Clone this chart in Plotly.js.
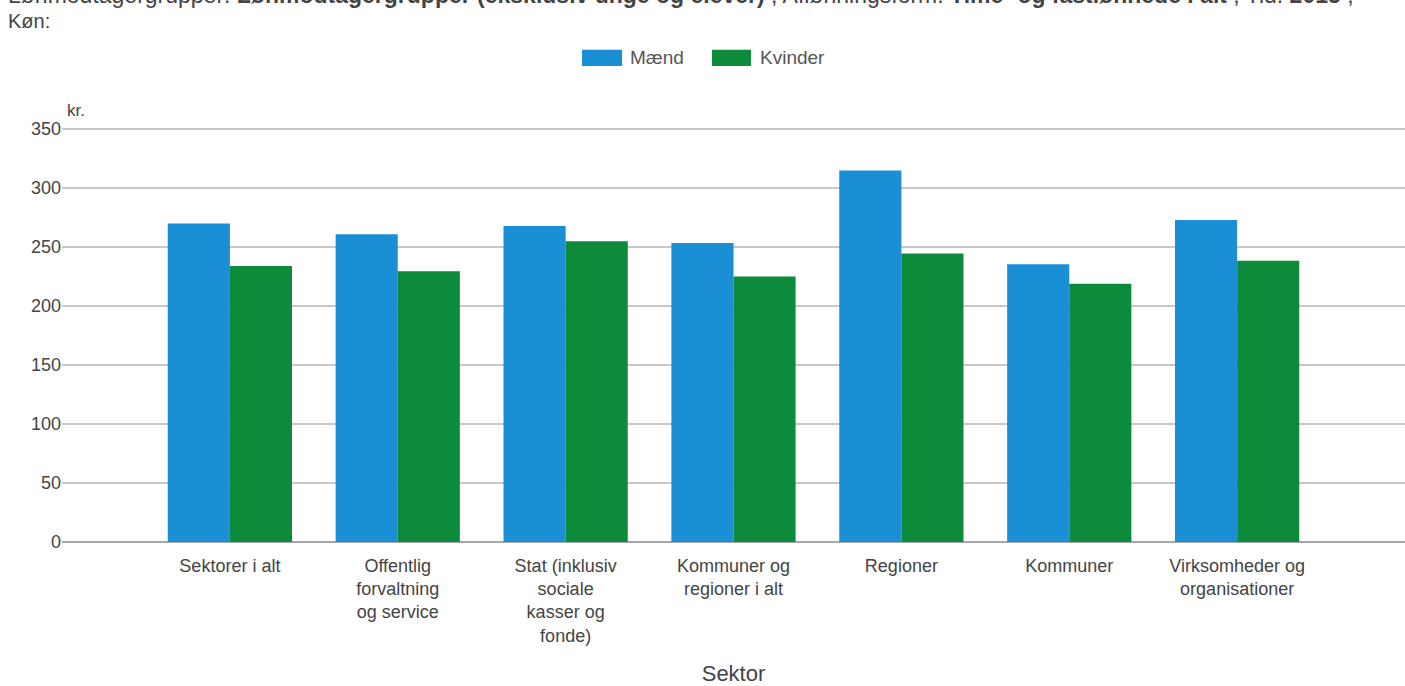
<!DOCTYPE html>
<html>
<head>
<meta charset="utf-8">
<script src="https://cdn.plot.ly/plotly-3.0.1.min.js"></script>
<style>html,body{margin:0;padding:0;background:#fff;}#chart{width:1405px;height:686px;}</style>
</head>
<body>
<div id="chart"></div>
<script>
const categories = [
  "Sektorer i alt",
  "Offentlig<br>forvaltning<br>og service",
  "Stat (inklusiv<br>sociale<br>kasser og<br>fonde)",
  "Kommuner og<br>regioner i alt",
  "Regioner",
  "Kommuner",
  "Virksomheder og<br>organisationer"
];
const seriesNames = ["Mænd", "Kvinder"];
const maend = [270, 261, 268, 253.5, 315, 235.5, 273];
const kvinder = [234, 229.5, 255, 225, 244.5, 219, 238.5];
const yTicks = [0, 50, 100, 150, 200, 250, 300, 350];
const colors = ["#1a8fd5", "#0e8a3b"];

const font = "Liberation Sans, Arial, sans-serif";

const traces = [
  {type: "bar", name: seriesNames[0], x: categories, y: maend, marker: {color: colors[0]}},
  {type: "bar", name: seriesNames[1], x: categories, y: kvinder, marker: {color: colors[1]}}
];

// custom legend (larger swatches like the reference)
const legendShapes = [
  {type: "rect", xref: "paper", yref: "paper", x0: 0.3872, x1: 0.4170, y0: 1.150, y1: 1.189,
   fillcolor: colors[0], line: {width: 0}},
  {type: "rect", xref: "paper", yref: "paper", x0: 0.4840, x1: 0.5130, y0: 1.150, y1: 1.189,
   fillcolor: colors[1], line: {width: 0}}
];

const layout = {
  width: 1405, height: 686,
  margin: {l: 62, r: 0, t: 128, b: 144},
  paper_bgcolor: "#fff", plot_bgcolor: "#fff",
  font: {family: font, color: "#444", size: 18},
  barmode: "group", bargap: 0.26, bargroupgap: 0,
  showlegend: false,
  xaxis: {
    type: "category", range: [-1, 7], showgrid: false, zeroline: false,
    showline: false, ticks: "outside", ticklen: 7, tickcolor: "rgba(0,0,0,0)",
    tickfont: {size: 18, color: "#444"},
    title: {text: "Sektor", font: {size: 22, color: "#444"}, standoff: 24}
  },
  yaxis: {
    range: [0, 351], tickvals: yTicks, showgrid: true, gridcolor: "#c8c8c8", gridwidth: 1.5,
    zeroline: true, zerolinecolor: "#a8a8a8", zerolinewidth: 2,
    ticks: "", tickfont: {size: 18, color: "#444"}, fixedrange: true
  },
  shapes: legendShapes,
  annotations: [
    {text: seriesNames[0], xref: "paper", yref: "paper", x: 0.4215, y: 1.1695, xanchor: "left", yanchor: "middle",
     showarrow: false, font: {size: 19, color: "#555"}},
    {text: seriesNames[1], xref: "paper", yref: "paper", x: 0.5180, y: 1.1695, xanchor: "left", yanchor: "middle",
     showarrow: false, font: {size: 19, color: "#555"}},
    {text: "kr.", xref: "paper", yref: "paper", x: 0.002, y: 1.043, xanchor: "left", yanchor: "middle",
     showarrow: false, font: {size: 17, color: "#444"}},
    {text: "Lønmodtagergrupper: <b>Lønmodtagergrupper (eksklusiv unge og elever)</b> ; Aflønningsform: <b>Time- og fastlønnede i alt</b> ; Tid: <b>2015</b> ;",
     xref: "paper", yref: "paper", x: -0.0415, y: 1.322, xanchor: "left", yanchor: "middle",
     showarrow: false, font: {size: 23, color: "#444"}},
    {text: "Køn:", xref: "paper", yref: "paper", x: -0.0415, y: 1.259, xanchor: "left", yanchor: "middle",
     showarrow: false, font: {size: 20, color: "#444"}}
  ]
};

Plotly.newPlot("chart", traces, layout, {displayModeBar: false, staticPlot: true});
</script>
</body>
</html>
